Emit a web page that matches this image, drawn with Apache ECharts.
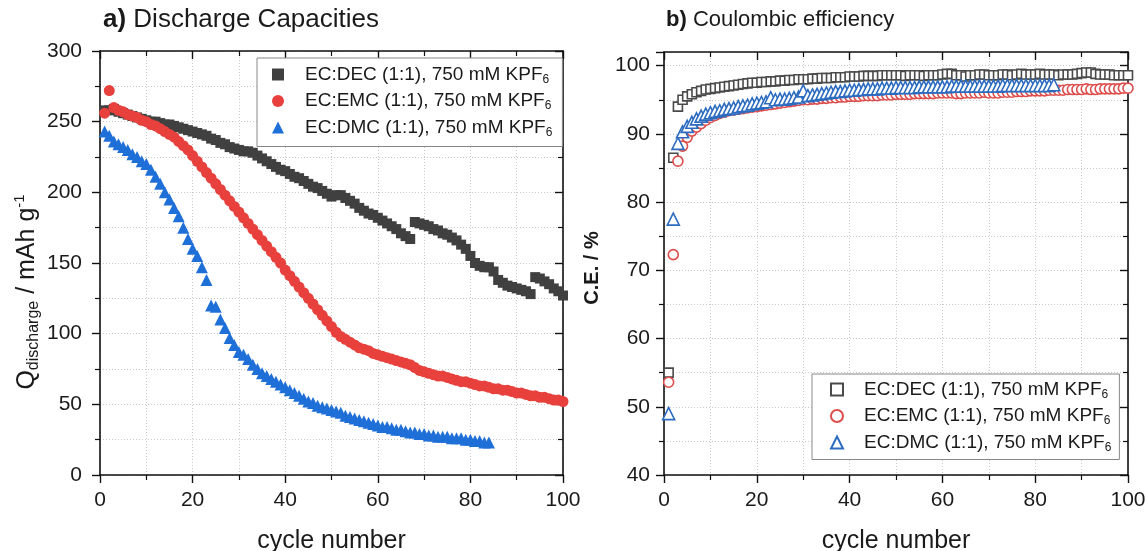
<!DOCTYPE html>
<html>
<head>
<meta charset="utf-8">
<script src="https://cdn.jsdelivr.net/npm/echarts@6/dist/echarts.min.js"></script>
<style>
  html, body { margin: 0; padding: 0; background: #fff; }
  #chart { width: 1147px; height: 551px; }
</style>
</head>
<body>
<div id="chart"></div>
<script>
const FONT = "Liberation Sans, Arial, sans-serif"

const legendLabels = {
  dec: "EC:DEC (1:1), 750 mM KPF",
  emc: "EC:EMC (1:1), 750 mM KPF",
  dmc: "EC:DMC (1:1), 750 mM KPF",
}

// a) discharge capacity, mAh/g, cycle 1..n
const capDEC = [
  258, 258, 259, 257, 256, 255, 254, 253, 252, 251,
  250, 250, 249, 248, 248, 247, 246, 245, 244, 243,
  242, 241, 240, 238, 237, 235, 234, 232, 231, 230,
  229, 229, 228, 226, 224, 222, 220, 218, 216, 215,
  213, 211, 210, 208, 206, 204, 203, 201, 199, 197,
  198, 198, 196, 194, 192, 189, 187, 185, 184, 182,
  180, 178, 176, 174, 171, 169, 167, 179, 178, 177,
  176, 174, 173, 171, 170, 168, 166, 163, 160, 155,
  150, 148, 147, 147, 144, 138, 136, 134, 133, 132,
  131, 130, 128, 140, 139, 137, 135, 132, 130, 127,
]
const capEMC = [
  256, 272, 260, 258, 257, 255, 254, 253, 251, 250,
  248, 247, 245, 243, 241, 239, 236, 233, 230, 226,
  222, 218, 214, 210, 206, 202, 198, 194, 190, 186,
  182, 178, 174, 170, 166, 162, 158, 154, 150, 145,
  141, 137, 133, 129, 125, 121, 117, 113, 109, 105,
  101, 98, 96, 94, 92, 90, 89, 88, 86, 85,
  84, 83, 82, 81, 80, 79, 78, 76, 74, 73,
  72, 71, 70, 70, 69, 68, 67, 66, 66, 65,
  64, 63, 63, 62, 61, 61, 60, 60, 59, 58,
  58, 57, 56, 56, 55, 55, 54, 53, 53, 52,
]
const capDMC = [
  243, 240, 236, 234, 232, 230, 227, 225, 222, 220,
  216, 211, 206, 200, 195, 189, 183, 175, 167, 160,
  155, 147, 138, 120, 119, 110, 104, 97, 92, 87,
  85, 82, 78, 75, 72, 70, 68, 66, 64, 62,
  60, 58, 56, 54, 52, 51, 49, 48, 47, 46,
  45, 44, 42, 41, 40, 39, 38, 37, 36, 35,
  34, 34, 33, 32, 32, 31, 30, 30, 29, 29,
  28, 28, 27, 27, 27, 26, 26, 26, 25, 25,
  24, 24, 23, 23,
]

// b) coulombic efficiency, %
const ceDEC = [
  55.0, 86.5, 94.0, 95.0, 95.5, 95.8, 96.1, 96.3, 96.5, 96.6,
  96.7, 96.8, 96.9, 97.0, 97.1, 97.2, 97.3, 97.4, 97.5, 97.5,
  97.6, 97.6, 97.7, 97.7, 97.8, 97.8, 97.9, 97.9, 98.0, 98.0,
  98.0, 98.1, 98.1, 98.2, 98.2, 98.2, 98.3, 98.3, 98.3, 98.4,
  98.4, 98.4, 98.5, 98.5, 98.5, 98.5, 98.6, 98.6, 98.6, 98.6,
  98.6, 98.5, 98.6, 98.6, 98.6, 98.5, 98.6, 98.6, 98.6, 98.7,
  98.8, 98.8, 98.6, 98.6, 98.4, 98.6, 98.6, 98.7, 98.7, 98.6,
  98.6, 98.6, 98.7, 98.7, 98.6, 98.7, 98.8, 98.7, 98.7, 98.7,
  98.8, 98.7, 98.7, 98.7, 98.6, 98.7, 98.7, 98.7, 98.8, 98.9,
  99.0, 99.0, 98.8, 98.7, 98.7, 98.7, 98.6, 98.6, 98.6, 98.6,
]
const ceEMC = [
  53.6, 72.3, 86.0, 88.2, 89.5, 90.4, 91.0, 91.5, 92.0, 92.4,
  92.7, 93.0, 93.2, 93.4, 93.5, 93.6, 93.7, 93.8, 93.9, 94.0,
  94.1, 94.2, 94.3, 94.4, 94.5, 94.6, 94.7, 94.8, 94.9, 95.0,
  95.0, 95.1, 95.1, 95.2, 95.2, 95.3, 95.3, 95.4, 95.4, 95.5,
  95.5, 95.5, 95.6, 95.6, 95.6, 95.6, 95.7, 95.7, 95.7, 95.8,
  95.8, 95.8, 95.8, 95.9, 95.9, 95.9, 95.9, 95.9, 96.0, 96.0,
  96.0, 96.0, 95.9, 95.9, 96.0, 96.0, 96.0, 96.0, 96.1, 96.0,
  96.0, 96.0, 96.1, 96.1, 96.1, 96.2, 96.2, 96.2, 96.3, 96.3,
  96.3, 96.3, 96.4, 96.4, 96.4, 96.4, 96.5, 96.5, 96.5, 96.5,
  96.6, 96.5, 96.5, 96.6, 96.6, 96.6, 96.6, 96.6, 96.7, 96.7,
]
const ceDMC = [
  49.0, 77.5, 88.6, 90.3, 91.1, 91.7, 92.2, 92.6, 92.9, 93.1,
  93.3, 93.4, 93.6, 93.7, 93.8, 94.0, 94.1, 94.2, 94.4, 94.5,
  94.6, 94.7, 95.3, 95.0, 95.1, 95.1, 95.2, 95.3, 95.4, 96.3,
  95.6, 95.7, 95.8, 95.9, 96.0, 96.1, 96.2, 96.2, 96.3, 96.4,
  96.4, 96.5, 96.5, 96.6, 96.6, 96.6, 96.7, 96.7, 96.7, 96.8,
  96.8, 96.8, 96.8, 96.8, 96.9, 96.9, 96.9, 96.9, 96.9, 96.9,
  96.9, 97.0, 97.0, 97.0, 97.0, 97.0, 97.0, 97.0, 97.0, 97.0,
  97.0, 97.0, 97.1, 97.1, 97.1, 97.1, 97.1, 97.1, 97.1, 97.1,
  97.1, 97.1, 97.1, 97.2,
]

const toPoints = (arr) => arr.map((v, i) => [i + 1, v])

const chart = echarts.init(document.getElementById("chart"))

const gridLine = { show: true, lineStyle: { color: "#c9c9c9", type: [1, 2], width: 1 } }
const axisLine = { show: true, onZero: false, lineStyle: { color: "#111", width: 1.6 } }
const labelStyle = { color: "#1a1a1a", fontSize: 21, fontFamily: FONT }

function mainAxis(gridIndex, position, min, max, interval, extra) {
  return Object.assign({
    type: "value",
    gridIndex,
    position,
    min,
    max,
    interval,
    axisLine,
    axisTick: { show: true, inside: false, length: 8, lineStyle: { color: "#111", width: 1.4 } },
    minorTick: { show: true, splitNumber: 2, length: 5, lineStyle: { color: "#111", width: 1.2 } },
    splitLine: gridLine,
    minorSplitLine: gridLine,
    axisLabel: Object.assign({ margin: 15 }, labelStyle),
  }, extra || {})
}

function mirrorAxis(gridIndex, position, min, max, interval) {
  return {
    type: "value",
    gridIndex,
    position,
    min,
    max,
    interval,
    axisLine,
    axisTick: { show: true, inside: true, length: 8, lineStyle: { color: "#111", width: 1.4 } },
    minorTick: { show: true, splitNumber: 2, length: 5, lineStyle: { color: "#111", width: 1.2 } },
    splitLine: { show: false },
    axisLabel: { show: false },
  }
}

const xName = {
  name: "cycle number",
  nameLocation: "middle",
  nameGap: 54,
  nameTextStyle: { color: "#1a1a1a", fontSize: 25, fontFamily: FONT },
}

const legendRich = {
  t: { fontSize: 19, lineHeight: 22, fontFamily: FONT, color: "#1a1a1a", padding: [0, 0, 0, 16] },
  s: { fontSize: 12, lineHeight: 12, fontFamily: FONT, color: "#1a1a1a", verticalAlign: "bottom" },
}

const option = {
  backgroundColor: "#fff",
  animation: false,
  title: [
    {
      text: "{b|a)} Discharge Capacities",
      left: 98,
      top: 2,
      textStyle: {
        fontSize: 26, fontWeight: "normal", color: "#1a1a1a", fontFamily: FONT,
        rich: { b: { fontSize: 26, fontWeight: "bold", color: "#1a1a1a", fontFamily: FONT } },
      },
    },
    {
      text: "{b|b)} Coulombic efficiency",
      left: 661,
      top: 4,
      textStyle: {
        fontSize: 22, fontWeight: "normal", color: "#1a1a1a", fontFamily: FONT,
        rich: { b: { fontSize: 22, fontWeight: "bold", color: "#1a1a1a", fontFamily: FONT } },
      },
    },
  ],
  grid: [
    { left: 100, top: 51, width: 463, height: 424, outerBoundsMode: "none", containLabel: false },
    { left: 664, top: 52, width: 464, height: 423, outerBoundsMode: "none", containLabel: false },
  ],
  xAxis: [
    mainAxis(0, "bottom", 0, 100, 20, xName),
    mirrorAxis(0, "top", 0, 100, 20),
    mainAxis(1, "bottom", 0, 100, 20, xName),
    mirrorAxis(1, "top", 0, 100, 20),
  ],
  yAxis: [
    mainAxis(0, "left", 0, 300, 50, { axisLabel: Object.assign({ margin: 18 }, labelStyle) }),
    mirrorAxis(0, "right", 0, 300, 50),
    mainAxis(1, "left", 40, 102, 10, {
      axisLabel: Object.assign({
        margin: 14,
        formatter: (v) => (v % 10 === 0 ? String(v) : ""),
      }, labelStyle),
    }),
    mirrorAxis(1, "right", 40, 102, 10),
  ],
  legend: [
    {
      orient: "vertical",
      left: 257,
      top: 58,
      itemWidth: 12,
      itemHeight: 12,
      itemGap: 6,
      padding: [7, 10, 8, 15],
      borderColor: "#888",
      borderWidth: 1,
      backgroundColor: "#fff",
      selectedMode: false,
      data: [
        { name: "dec_q", icon: "rect" },
        { name: "emc_q", icon: "circle" },
        { name: "dmc_q", icon: "triangle" },
      ],
      formatter: (n) => "{t|" + legendLabels[n.split("_")[0]] + "}{s|6}",
      textStyle: { rich: legendRich },
    },
    {
      orient: "vertical",
      left: 812,
      top: 374,
      itemWidth: 12,
      itemHeight: 12,
      itemGap: 6,
      padding: [6, 8, 6, 18],
      borderColor: "#888",
      borderWidth: 1,
      backgroundColor: "#fff",
      selectedMode: false,
      data: [
        { name: "dec_ce", icon: "rect" },
        { name: "emc_ce", icon: "circle" },
        { name: "dmc_ce", icon: "triangle" },
      ],
      formatter: (n) => "{t|" + legendLabels[n.split("_")[0]] + "}{s|6}",
      textStyle: { rich: legendRich },
    },
  ],
  graphic: [
    {
      type: "text",
      x: 27,
      y: 292,
      rotation: Math.PI / 2,
      style: {
        text: "{t|Q}{s|discharge}{t| / mAh g}{p|-1}",
        align: "center",
        verticalAlign: "middle",
        rich: {
          t: { fontSize: 25, lineHeight: 30, fontFamily: FONT, fill: "#1a1a1a" },
          s: { fontSize: 16, lineHeight: 16, fontFamily: FONT, fill: "#1a1a1a", verticalAlign: "bottom" },
          p: { fontSize: 15, lineHeight: 15, fontFamily: FONT, fill: "#1a1a1a", verticalAlign: "top" },
        },
      },
    },
    {
      type: "text",
      x: 592,
      y: 268,
      rotation: Math.PI / 2,
      style: {
        text: "C.E. / %",
        align: "center",
        verticalAlign: "middle",
        fontSize: 20,
        fontWeight: "bold",
        fontFamily: FONT,
        fill: "#1a1a1a",
      },
    },
  ],
  series: [
    {
      name: "dec_q", type: "scatter", xAxisIndex: 0, yAxisIndex: 0,
      symbol: "rect", symbolSize: 10,
      itemStyle: { color: "#404040", opacity: 1 },
      data: toPoints(capDEC),
    },
    {
      name: "emc_q", type: "scatter", xAxisIndex: 0, yAxisIndex: 0,
      symbol: "circle", symbolSize: 11,
      itemStyle: { color: "#e8403c", opacity: 1 },
      data: toPoints(capEMC),
    },
    {
      name: "dmc_q", type: "scatter", xAxisIndex: 0, yAxisIndex: 0,
      symbol: "triangle", symbolSize: 12,
      itemStyle: { color: "#1f6fd8", opacity: 1 },
      data: toPoints(capDMC),
    },
    {
      name: "dec_ce", type: "scatter", xAxisIndex: 2, yAxisIndex: 2,
      symbol: "rect", symbolSize: 9,
      itemStyle: { color: "#fff", borderColor: "#4a4a4a", borderWidth: 1.6, opacity: 1 },
      data: toPoints(ceDEC),
    },
    {
      name: "emc_ce", type: "scatter", xAxisIndex: 2, yAxisIndex: 2,
      symbol: "circle", symbolSize: 10,
      itemStyle: { color: "#fff", borderColor: "#dc4d4b", borderWidth: 1.6, opacity: 1 },
      data: toPoints(ceEMC),
    },
    {
      name: "dmc_ce", type: "scatter", xAxisIndex: 2, yAxisIndex: 2,
      symbol: "triangle", symbolSize: 12,
      itemStyle: { color: "#fff", borderColor: "#2c6cc0", borderWidth: 1.6, opacity: 1 },
      data: toPoints(ceDMC),
    },
  ],
}

chart.setOption(option)
</script>
</body>
</html>
